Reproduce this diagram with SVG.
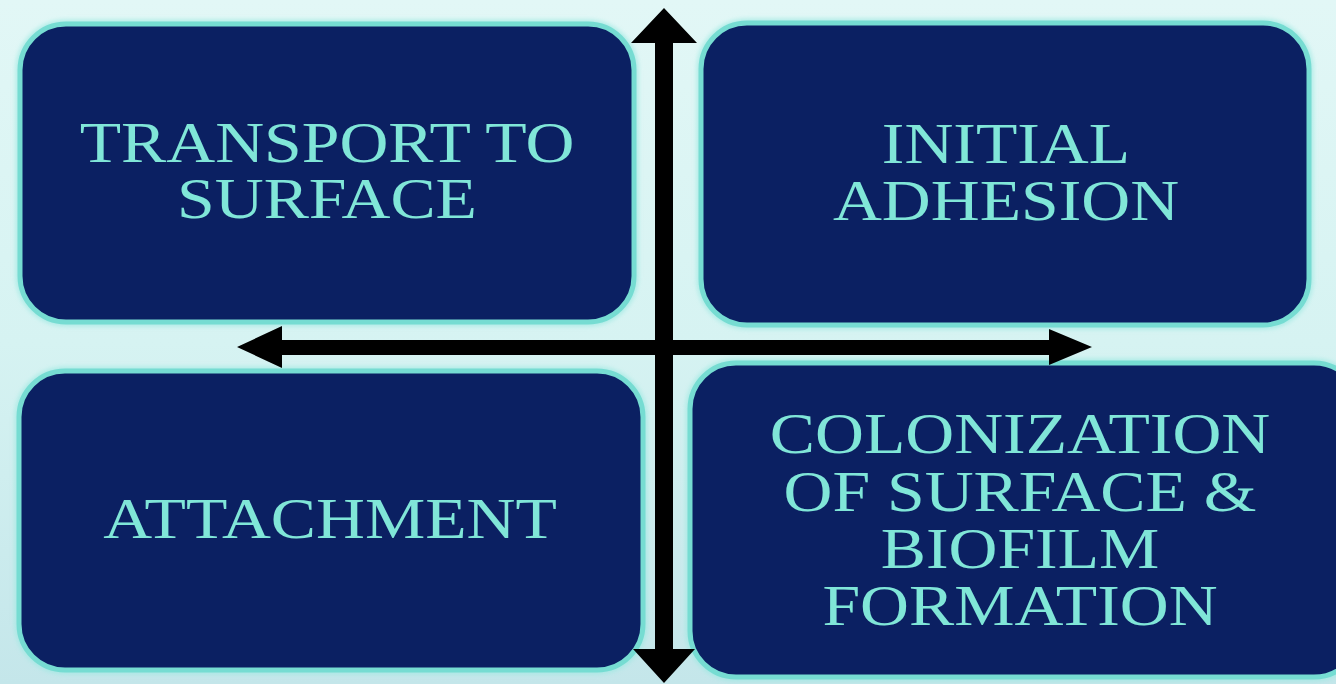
<svg xmlns="http://www.w3.org/2000/svg" width="1336" height="684" viewBox="0 0 1336 684">
<defs>
<linearGradient id="bg" x1="0" y1="0" x2="0" y2="1">
<stop offset="0" stop-color="#e2f7f6"/>
<stop offset="0.5" stop-color="#d6f3f2"/>
<stop offset="1" stop-color="#c4e6ea"/>
</linearGradient>
<filter id="glow" x="-5%" y="-5%" width="110%" height="110%">
<feGaussianBlur stdDeviation="2"/>
</filter>
<style>
.box{fill:#0b2062;stroke:#76dcd2;stroke-width:5}
.halo{fill:none;stroke:#9ee9e2;stroke-width:9;opacity:0.7}
.lbl{font-family:"Liberation Serif","Times New Roman",serif;font-size:56px;fill:#80e6d8;text-anchor:middle}
.arr{fill:#000}
</style>
</defs>
<rect width="1336" height="684" fill="url(#bg)"/>
<g id="node-transport">
<rect class="halo" x="20" y="24" width="614" height="298" rx="46" filter="url(#glow)"/>
<rect class="box" x="20" y="24" width="614" height="298" rx="46"/>
<text class="lbl" transform="translate(327,162) scale(1.21,1)">TRANSPORT TO</text>
<text class="lbl" transform="translate(327,218) scale(1.21,1)">SURFACE</text>
</g>
<g id="node-adhesion">
<rect class="halo" x="701" y="23" width="608" height="302" rx="46" filter="url(#glow)"/>
<rect class="box" x="701" y="23" width="608" height="302" rx="46"/>
<text class="lbl" transform="translate(1006,163) scale(1.21,1)">INITIAL</text>
<text class="lbl" transform="translate(1006,220) scale(1.21,1)">ADHESION</text>
</g>
<g id="node-attachment">
<rect class="halo" x="19" y="371" width="624" height="299" rx="46" filter="url(#glow)"/>
<rect class="box" x="19" y="371" width="624" height="299" rx="46"/>
<text class="lbl" transform="translate(330,538) scale(1.21,1)">ATTACHMENT</text>
</g>
<g id="node-colonization">
<rect class="halo" x="690" y="363" width="670" height="314" rx="46" filter="url(#glow)"/>
<rect class="box" x="690" y="363" width="670" height="314" rx="46"/>
<text class="lbl" transform="translate(1020,453) scale(1.21,1)">COLONIZATION</text>
<text class="lbl" transform="translate(1020,511) scale(1.21,1)">OF SURFACE &amp;</text>
<text class="lbl" transform="translate(1020,568) scale(1.21,1)">BIOFILM</text>
<text class="lbl" transform="translate(1020,625) scale(1.21,1)">FORMATION</text>
</g>
<g id="connectors">
<polygon class="arr" points="664,8 697,43 673,43 673,649 695,649 664,683 633,649 655,649 655,43 631,43"/>
<polygon class="arr" points="237,347 282,326 282,340 1049,340 1049,329 1092,347 1049,365 1049,355 282,355 282,368"/>
</g>
</svg>
